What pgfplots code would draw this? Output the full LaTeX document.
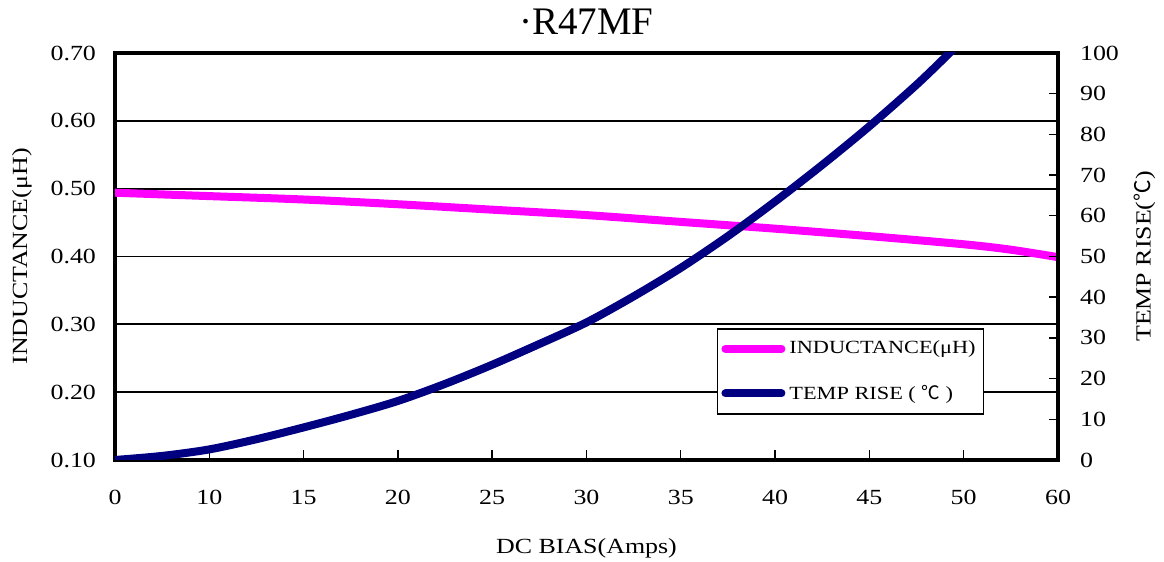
\documentclass[border=0pt]{standalone}
\usepackage{fontspec}
\setmainfont{Liberation Serif}[FakeStretch=1.2]
\newfontfamily\titlefont{Liberation Serif}
\newfontfamily\cjk{Noto Sans CJK SC}
\usepackage{pgfplots}
\pgfplotsset{compat=1.18}
\definecolor{mag}{HTML}{FF00FF}
\definecolor{nav}{HTML}{000080}

\begin{document}
\begin{tikzpicture}
\pgfplotsset{
  common/.style={
    scale only axis, width=471.5pt, height=203.5pt,
    xmin=0, xmax=10,
    /pgf/number format/assume math mode=true,
    tick label style={font=\fontsize{10.8}{12}\selectfont},
    label style={font=\fontsize{10.8}{12}\selectfont},
  },
  magstyle/.style={mag, line width=4pt, line cap=round, no markers},
  navstyle/.style={nav, line width=4pt, line cap=round, no markers},
}
\begin{axis}[common, name=ax,
  ymin=0.1, ymax=0.7,
  ytick={0.1,0.2,0.3,0.4,0.5,0.6,0.7},
  yticklabels={0.10,0.20,0.30,0.40,0.50,0.60,0.70},
  ymajorgrids, major grid style={black, line width=0.9pt},
  xtick={0,1,2,3,4,5,6,7,8,9,10},
  xticklabels={0,10,15,20,25,30,35,40,45,50,60},
  xtick pos=bottom, ytick pos=left,
  tick align=inside,
  major tick length=5pt,
  ytick style={draw=none},
  xtick style={black, line width=0.7pt},
  axis line style={line width=1.6pt},
  xticklabel style={yshift=-11.5pt},
  yticklabel style={xshift=-6pt},
  title={\titlefont ·R47MF},
  title style={font=\fontsize{19.5}{22}\selectfont, at={(axis description cs:0.5,1.047)}, anchor=center},
  xlabel={DC BIAS(Amps)},
  xlabel style={at={(axis description cs:0.5,-0.216)}, anchor=center},
  ylabel={INDUCTANCE(μH)},
  ylabel style={at={(axis description cs:-0.0986,0.5)}, anchor=center},
]
\addplot[magstyle, smooth] coordinates {
(0,0.494) (1,0.489) (2,0.484) (3,0.477) (4,0.469) (5,0.461) (6,0.451)
(7,0.441) (8,0.430) (9,0.418) (9.5,0.410) (10,0.399)
};
\end{axis}
\begin{axis}[common,
  ymin=0, ymax=100,
  ytick={0,10,20,30,40,50,60,70,80,90,100},
  axis x line=none, axis y line*=right,
  tick align=inside, major tick length=4.5pt,
  ytick style={black, line width=0.7pt},
  axis line style={line width=1.6pt},
  yticklabel style={xshift=7.5pt},
  ylabel={TEMP RISE({\cjk ℃})},
  ylabel style={at={(axis description cs:1.092,0.5)}, anchor=center},
  legend style={at={(axis description cs:0.638,0.324)}, anchor=north west,
    draw=black, line width=0.8pt, fill=white,
    font=\fontsize{9.3}{11}\selectfont, row sep=10pt,
    inner xsep=2pt, inner ysep=4pt, cells={anchor=west}},
  legend image code/.code={\draw[#1] (0pt,0pt) -- (28pt,0pt);},
]
\addlegendimage{magstyle}
\addlegendentry{INDUCTANCE(μH)}
\addplot[navstyle, smooth] coordinates {
(0,0) (0.5,1.0) (1,2.6) (1.5,5.1) (2,8.0) (2.5,11.1) (3,14.5) (3.5,18.7)
(4,23.4) (4.5,28.5) (5,33.8) (5.5,40.2) (6,47.2) (6.5,55) (7,63.5)
(7.5,72.5) (8,82) (8.5,92.2) (8.85,100) (9,103.5)
};
\addlegendentry{TEMP RISE ( {\cjk ℃} )}
\end{axis}
\pgfresetboundingbox
\path ([shift={(-57.5pt,-51pt)}]ax.south west) rectangle ([shift={(53pt,26.5pt)}]ax.north east);
\end{tikzpicture}
\end{document}
